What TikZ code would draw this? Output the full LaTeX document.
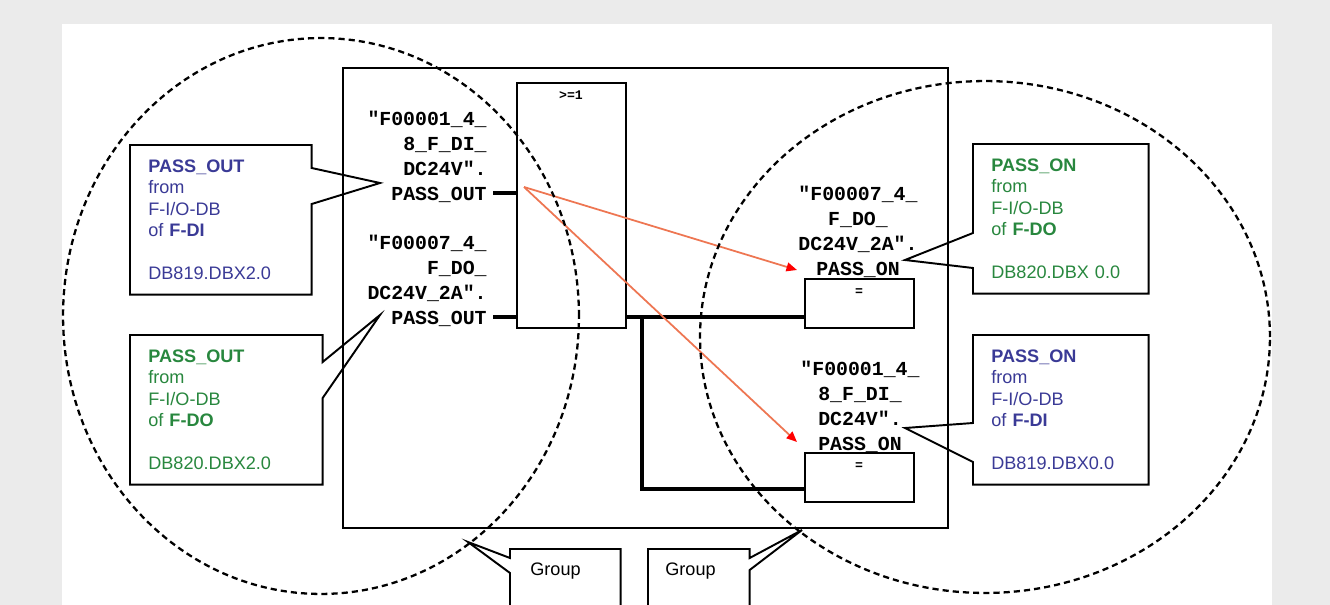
\documentclass[tikz,border=0pt]{standalone}
\usepackage{fontspec}
\setmainfont{Liberation Sans}
\newfontfamily\codefont{Liberation Mono}
\usetikzlibrary{arrows.meta}

\definecolor{passblue}{RGB}{58,58,150}
\definecolor{passgreen}{RGB}{40,135,62}
\definecolor{pagegray}{RGB}{235,235,235}
\definecolor{linkred}{RGB}{238,118,82}

\begin{document}
\begin{tikzpicture}[
		x=0.02cm, y=-0.02cm,
		frame/.style={
			draw,
			line width=1.1pt,
			inner sep=0
		},
		tag/.style={
			font=\codefont\bfseries\fontsize{11.3}{14.2}\selectfont,
			inner sep=0
		},
		small/.style={
			font=\codefont\bfseries\fontsize{7.5}{8}\selectfont,
			inner sep=0
		},
		note/.style={
			anchor=north west,
			align=left,
			inner xsep=0.36cm,
			inner ysep=0,
			minimum height=2.98cm,
			font=\fontsize{10.3}{12.25}\selectfont
		},
		groupnote/.style={
			anchor=north west,
			align=left,
			inner xsep=0.4cm,
			inner ysep=0.28cm,
			text depth=1.4cm,
			font=\fontsize{10.3}{12.25}\selectfont
		},
		callout/.style={draw, line width=1.1pt, line join=miter},
		wire/.style={draw, line width=2.1pt},
		link/.style={draw=linkred, line width=1pt, -{Triangle[length=6pt,width=5pt,color=red]}},
		zone/.style={draw, line width=1.3pt, dash pattern=on 3.5pt off 2.3pt}
		]
		
		\useasboundingbox (0,0) rectangle (1330,605);
		\clip (0,0) rectangle (1330,605);
		
		% page
		\fill[pagegray] (0,0) rectangle (1330,605);
		\fill[white] (62,24) rectangle (1272,605);
		
		% Program block
		\node[frame, minimum width=12.1cm, minimum height=9.2cm] (block) at (645.5,298) {};
		\node[frame, minimum width=2.18cm, minimum height=4.9cm] (gate) at (571.5,205.5) {};
		\node[small] (gateLabel) at (571,95) {>=1};
		
		\node[frame, minimum width=2.18cm, minimum height=0.98cm] (eqA) at (859.5,303.5) {};
		\node[small] (eqALabel) at (859,292) {=};
		\node[frame, minimum width=2.18cm, minimum height=0.98cm] (eqB) at (859.5,477.5) {};
		\node[small] (eqBLabel) at (859,466) {=};
		
		% Operands
		\node[tag, anchor=north east, align=right] (diTag) at (487,111)
		{"F00001\_4\_\\8\_F\_DI\_\\DC24V".\\PASS\_OUT};
		\node[tag, anchor=north east, align=right] (doTag) at (487,235)
		{"F00007\_4\_\\F\_DO\_\\DC24V\_2A".\\PASS\_OUT};
		\node[tag, anchor=north, align=center] (doOnTag) at (858,186)
		{"F00007\_4\_\\F\_DO\_\\DC24V\_2A".\\PASS\_ON};
		\node[tag, anchor=north, align=center] (diOnTag) at (860,361)
		{"F00001\_4\_\\8\_F\_DI\_\\DC24V".\\PASS\_ON};
		
		% Wiring
		\coordinate (diPin) at (493,193);
		\coordinate (doPin) at (493,317);
		\coordinate (branch) at (642,317);
		\draw[wire] (diPin) -- (diPin -| gate.west);
		\draw[wire] (doPin) -- (doPin -| gate.west);
		\draw[wire] (gate.east |- doPin) -- (doPin -| eqA.west);
		\draw[wire] (branch) |- (eqB.west |- 0,489);
		
		% Red links
		\coordinate (linkStart) at (524,187);
		\coordinate (doOnTip) at (797,270);
		\coordinate (diOnTip) at (797,442);
		\draw[link] (linkStart) -- (doOnTip);
		\draw[link] (linkStart) -- (diOnTip);
		
		% Callouts left
		\node[note, text width=2.9cm, text=passblue] (diOut) at (130,145)
		{\textbf{PASS\_OUT}\\from\\F-I/O-DB\\of \textbf{F-DI}\\[12.25pt]DB819.DBX2.0};
		\coordinate (diOutTip) at (380,183);
		\draw[callout] (diOut.north west) -- (diOut.north east) -- (diOut.east |- 0,168)
		-- (diOutTip) -- (diOut.east |- 0,204) -- (diOut.south east) -- (diOut.south west) -- cycle;
		
		\node[note, text width=3.12cm, text=passgreen] (doOut) at (130,335)
		{\textbf{PASS\_OUT}\\from\\F-I/O-DB\\of \textbf{F-DO}\\[12.25pt]DB820.DBX2.0};
		\coordinate (doOutTip) at (380,315);
		\draw[callout] (doOut.north west) -- (doOut.north east) -- (doOut.east |- 0,362)
		-- (doOutTip) -- (doOut.east |- 0,398) -- (doOut.south east) -- (doOut.south west) -- cycle;
		
		% Callouts right
		\node[note, text width=2.78cm, text=passgreen] (doOn) at (973,144)
		{\textbf{PASS\_ON}\\from\\F-I/O-DB\\of \textbf{F-DO}\\[12.25pt]DB820.DBX 0.0};
		\coordinate (doOnNote) at (905,260);
		\draw[callout] (doOn.north west) -- (doOn.north east) -- (doOn.south east) -- (doOn.south west)
		-- (doOn.west |- 0,268) -- (doOnNote) -- (doOn.west |- 0,233) -- cycle;
		
		\node[note, text width=2.78cm, text=passblue] (diOn) at (973,335)
		{\textbf{PASS\_ON}\\from\\F-I/O-DB\\of \textbf{F-DI}\\[12.25pt]DB819.DBX0.0};
		\coordinate (diOnNote) at (905,428);
		\draw[callout] (diOn.north west) -- (diOn.north east) -- (diOn.south east) -- (diOn.south west)
		-- (diOn.west |- 0,462) -- (diOnNote) -- (diOn.west |- 0,423) -- cycle;
		
		% Group callouts
		\node[groupnote, text width=1.4cm] (grpL) at (510,549) {Group};
		\coordinate (grpLTip) at (468,542);
		\draw[callout] (grpL.south east) -- (grpL.north east) -- (grpL.north west) -- (grpL.west |- 0,558)
		-- (grpLTip) -- (grpL.west |- 0,573) -- (grpL.south west);
		
		\node[groupnote, text width=1.34cm, inner xsep=0.34cm] (grpR) at (648,549) {Group};
		\coordinate (grpRTip) at (802,530);
		\draw[callout] (grpR.south west) -- (grpR.north west) -- (grpR.north east) -- (grpR.east |- 0,558)
		-- (grpRTip) -- (grpR.east |- 0,570) -- (grpR.south east);
		
		% Zones
		\draw[zone] (321,316) ellipse [x radius=5.16cm, y radius=5.56cm];
		\draw[zone] (985,337) ellipse [x radius=5.7cm, y radius=5.12cm];
		
	\end{tikzpicture}
\end{document}
